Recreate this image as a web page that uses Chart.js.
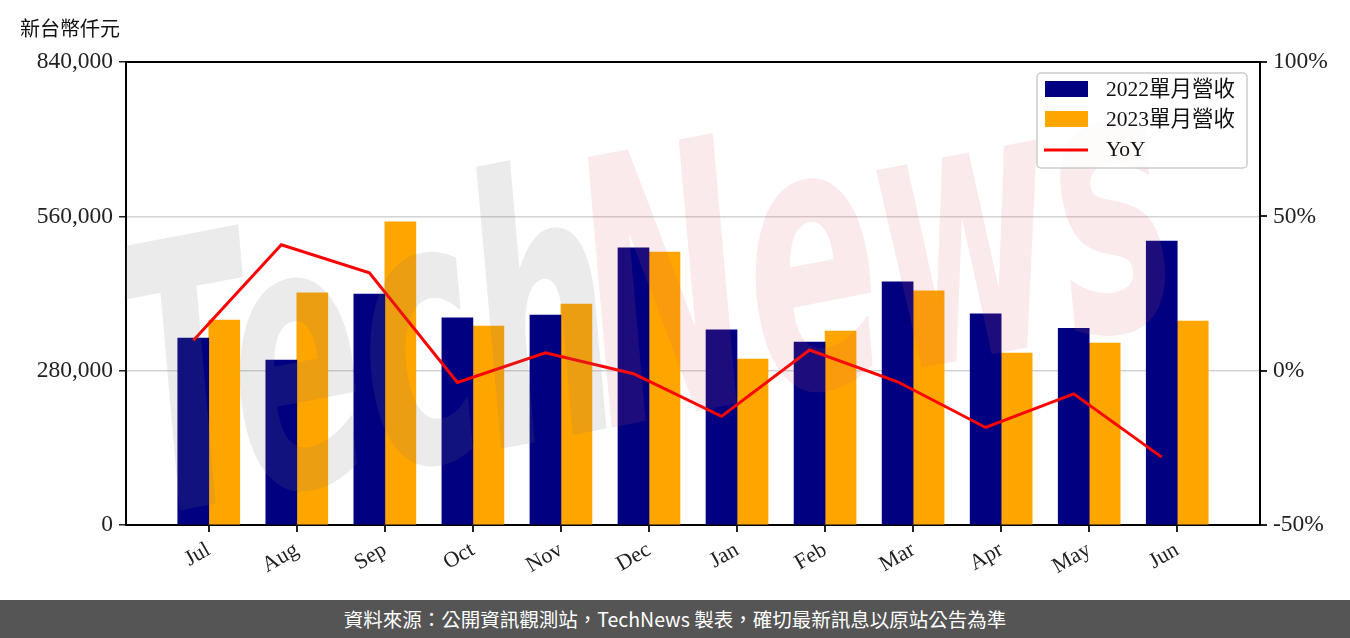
<!DOCTYPE html>
<html>
<head>
<meta charset="utf-8">
<script src="https://cdn.jsdelivr.net/npm/chart.js@4/dist/chart.umd.min.js"></script>
<style>
  body { margin: 0; background: #fff; width: 1350px; height: 638px; overflow: hidden; position: relative; }
  #wrap { position: absolute; left: 0; top: 0; width: 1350px; height: 600px; }
  #unit { position: absolute; left: 20px; top: 13px; font: 20px "Noto Sans CJK TC", sans-serif; color: #111; }
  #footer { position: absolute; left: 0; top: 600px; width: 1350px; height: 38px; background: #555555;
            color: #fff; font: 19.5px "Noto Sans CJK TC", sans-serif; text-align: center; line-height: 38px; }
</style>
</head>
<body>
<div id="wrap"><canvas id="revChart"></canvas></div>
<div id="unit">新台幣仟元</div>
<div id="footer">資料來源：公開資訊觀測站，TechNews 製表，確切最新訊息以原站公告為準</div>
<script>
const months = ['Jul', 'Aug', 'Sep', 'Oct', 'Nov', 'Dec', 'Jan', 'Feb', 'Mar', 'Apr', 'May', 'Jun'];
const rev2022 = [339000, 299000, 419000, 376000, 381000, 503000, 354000, 332000, 441000, 383000, 357000, 515000];
const rev2023 = [372000, 421000, 550000, 361000, 401000, 495000, 301000, 352000, 425000, 312000, 330000, 370000];
const yoy = [9.8, 40.8, 31.7, -3.8, 5.8, -1.0, -14.8, 6.7, -3.6, -18.4, -7.5, -28.0];
const leftTicks = [0, 280000, 560000, 840000];
const rightTicks = [-50, 0, 50, 100];

const serif = '"Liberation Serif", "Noto Sans CJK TC", serif';
const lineShift = 0.176; // line sits on the centre of the 2022 bar

// frame on top of the plot + the watermark + the legend box
const extras = {
    id: 'extras',
    afterDatasetsDraw(chart) {
        const ctx = chart.ctx;
        const a = chart.chartArea;
        ctx.save();
        ctx.beginPath();
        ctx.rect(a.left, a.top, a.right - a.left, a.bottom - a.top);
        ctx.clip();
        ctx.font = 'italic bold 195px "DejaVu Sans"';
        ctx.translate(a.left + 20, a.top + 455);
        ctx.rotate(-0.19);
        ctx.scale(1, 1.9);
        ctx.fillStyle = 'rgba(120,120,120,0.15)';
        ctx.fillText('Tech', 0, 0);
        ctx.fillStyle = 'rgba(215,90,100,0.13)';
        ctx.fillText('News', 470, 0);
        ctx.restore();

        ctx.save();
        ctx.strokeStyle = '#000';
        ctx.lineWidth = 2;
        ctx.beginPath();
        ctx.moveTo(a.left, a.top);
        ctx.lineTo(a.right, a.top);
        ctx.stroke();
        ctx.restore();
    },
    afterDraw(chart) {
        const ctx = chart.ctx;
        const a = chart.chartArea;
        const bx = a.right - 223, by = a.top + 11, bw = 210, bh = 95;
        ctx.save();
        ctx.fillStyle = 'rgba(255,255,255,0.85)';
        ctx.strokeStyle = '#cccccc';
        ctx.lineWidth = 1.5;
        ctx.beginPath();
        ctx.roundRect(bx, by, bw, bh, 4);
        ctx.fill();
        ctx.stroke();
        ctx.font = '21.5px ' + serif;
        ctx.textBaseline = 'middle';
        chart.data.datasets.forEach((ds, i) => {
            const cy = by + 16 + i * 30;
            if (ds.type === 'line') {
                ctx.strokeStyle = ds.borderColor;
                ctx.lineWidth = 3;
                ctx.beginPath();
                ctx.moveTo(bx + 7, cy + 1);
                ctx.lineTo(bx + 51, cy + 1);
                ctx.stroke();
            } else {
                ctx.fillStyle = ds.backgroundColor;
                ctx.fillRect(bx + 8, cy - 8, 43, 16);
            }
            ctx.fillStyle = '#111';
            ctx.fillText(ds.label, bx + 69, cy + 1);
        });
        ctx.restore();
    }
};

const ctx = document.getElementById('revChart').getContext('2d');
new Chart(ctx, {
    data: {
        datasets: [
            {
                type: 'bar',
                label: '2022單月營收',
                data: months.map((m, i) => ({ x: i, y: rev2022[i] })),
                backgroundColor: '#000080',
                barThickness: 31,
                yAxisID: 'y',
                order: 2
            },
            {
                type: 'bar',
                label: '2023單月營收',
                data: months.map((m, i) => ({ x: i, y: rev2023[i] })),
                backgroundColor: '#FFA500',
                barThickness: 31,
                yAxisID: 'y',
                order: 2
            },
            {
                type: 'line',
                label: 'YoY',
                data: months.map((m, i) => ({ x: i - lineShift, y: yoy[i] })),
                borderColor: '#ff0000',
                borderWidth: 3,
                pointRadius: 0,
                tension: 0,
                yAxisID: 'y1',
                order: 0
            }
        ]
    },
    options: {
        responsive: true,
        maintainAspectRatio: false,
        animation: false,
        layout: { padding: { top: 62, left: 0, right: 0, bottom: 0 } },
        plugins: { legend: { display: false }, tooltip: { enabled: false } },
        scales: {
            x: {
                type: 'linear',
                position: 'bottom',
                offset: false,
                min: -0.94,
                max: 11.94,
                afterBuildTicks: (scale) => { scale.ticks = months.map((m, i) => ({ value: i })); },
                afterFit: (scale) => { scale.height = 75; },
                ticks: {
                    callback: (v) => months[v],
                    font: { family: serif, size: 22 },
                    color: '#222',
                    maxRotation: 30,
                    minRotation: 30,
                    padding: 5
                },
                grid: { offset: false, drawOnChartArea: false, tickLength: 7, tickColor: '#222', lineWidth: 2 },
                border: { color: '#000', width: 2 }
            },
            y: {
                position: 'left',
                min: 0,
                max: 840000,
                afterBuildTicks: (scale) => { scale.ticks = leftTicks.map(v => ({ value: v })); },
                afterFit: (scale) => { scale.width = 126; },
                ticks: {
                    callback: (v) => v.toLocaleString('en-US'),
                    font: { family: serif, size: 23.5 },
                    color: '#222',
                    padding: 6
                },
                grid: { color: '#d3d3d3', lineWidth: 1.5, tickColor: '#222', tickLength: 7 },
                border: { color: '#000', width: 2 }
            },
            y1: {
                position: 'right',
                min: -50,
                max: 100,
                afterBuildTicks: (scale) => { scale.ticks = rightTicks.map(v => ({ value: v })); },
                afterFit: (scale) => { scale.width = 90; },
                ticks: {
                    callback: (v) => v + '%',
                    font: { family: serif, size: 23.5 },
                    color: '#222',
                    padding: 6
                },
                grid: { drawOnChartArea: false, tickColor: '#222', tickLength: 7, lineWidth: 2 },
                border: { color: '#000', width: 2 }
            }
        }
    },
    plugins: [extras]
});
</script>
</body>
</html>
